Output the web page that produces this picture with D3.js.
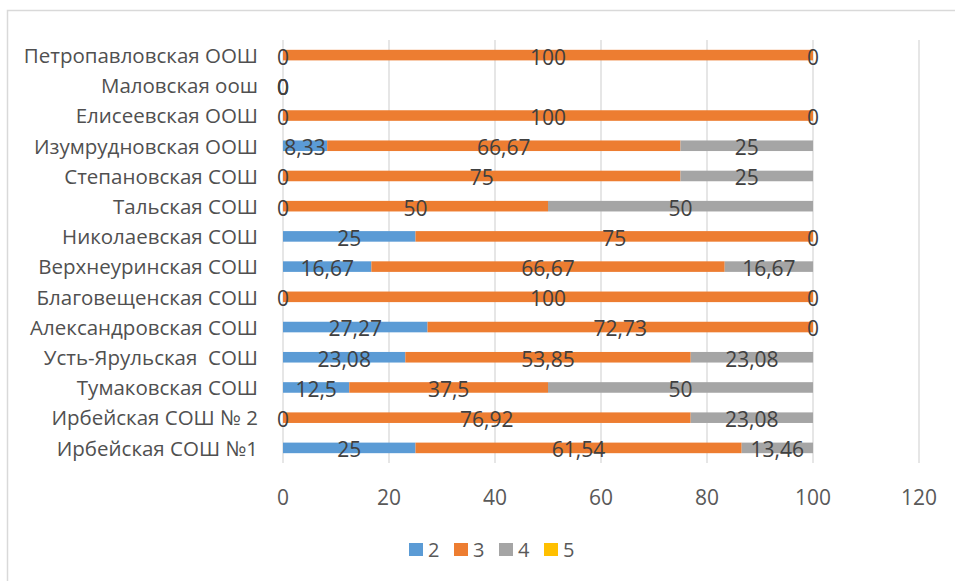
<!DOCTYPE html>
<html><head><meta charset="utf-8">
<script src="https://cdn.jsdelivr.net/npm/d3@7"></script>
<style>html,body{margin:0;padding:0;background:#fff;}svg{display:block;}</style>
</head><body>
<svg id="chart" width="955" height="581"></svg>
<script>
const categories = ["Петропавловская ООШ","Маловская оош","Елисеевская ООШ","Изумрудновская ООШ","Степановская СОШ","Тальская СОШ","Николаевская СОШ","Верхнеуринская СОШ","Благовещенская СОШ","Александровская СОШ","Усть-Ярульская  СОШ","Тумаковская СОШ","Ирбейская СОШ № 2","Ирбейская СОШ №1"];
const seriesNames = ["2","3","4","5"];
const s2 = [0,0,0,8.33,0,0,25,16.67,0,27.27,23.08,12.5,0,25];
const s3 = [100,0,100,66.67,75,50,75,66.67,100,72.73,53.85,37.5,76.92,61.54];
const s4 = [0,0,0,25,25,50,0,16.67,0,0,23.08,50,23.08,13.46];
const s5 = [null,null,null,null,null,null,null,null,null,null,null,null,null,null];
const colors = ["#5B9BD5","#ED7D31","#A5A5A5","#FFC000"];
const xTicks = [0,20,40,60,80,100,120];

const svg = d3.select("#chart");
const FONT = "'Open Sans', sans-serif";
const pLeft = 283, pRight = 919, pTop = 40, pBottom = 463;

svg.append("rect").attr("x",7.5).attr("y",10.5).attr("width",1000).attr("height",1000)
  .attr("fill","#fff").attr("stroke","#d9d9d9").attr("stroke-width",1.5);

const x = d3.scaleLinear().domain([0,120]).range([pLeft,pRight]);
const y = d3.scaleBand().domain(categories).range([pTop,pBottom]).paddingInner(0.65).paddingOuter(0.325);

// gridlines
svg.append("g").selectAll("line").data(xTicks).join("line")
  .attr("x1",d=>x(d)).attr("x2",d=>x(d)).attr("y1",pTop).attr("y2",pBottom)
  .attr("stroke","#d9d9d9").attr("stroke-width",1.3);

// tick labels
svg.append("g").selectAll("text").data(xTicks).join("text")
  .attr("x",d=>x(d)).attr("y",505).attr("text-anchor","middle")
  .attr("font-family",FONT).attr("font-size",21).attr("fill","#595959").text(d=>d);

const allSeries = [s2,s3,s4,s5];
const rows = categories.map((c,i)=>{
  let acc = 0; const segs = [];
  allSeries.forEach((s,k)=>{
    const v = s[i];
    const x0 = acc; acc += (v||0);
    segs.push({cat:c,k,v,x0,x1:acc});
  });
  return segs;
});
const segs = rows.flat();

svg.append("g").selectAll("rect").data(segs.filter(d=>d.v)).join("rect")
  .attr("x",d=>x(d.x0)).attr("width",d=>x(d.x1)-x(d.x0))
  .attr("y",d=>y(d.cat)).attr("height",y.bandwidth())
  .attr("fill",d=>colors[d.k]);

const fmt = v => String(v).replace(".",",");
svg.append("g").selectAll("text").data(segs.filter(d=>d.v!==null)).join("text")
  .attr("x",d=>x((d.x0+d.x1)/2)).attr("y",d=>y(d.cat)+y.bandwidth()/2)
  .attr("dy","0.45em").attr("text-anchor","middle")
  .attr("font-family",FONT).attr("font-size",21).attr("fill","#404040").text(d=>fmt(d.v));

// category labels
svg.append("g").selectAll("text").data(categories).join("text")
  .attr("x",258).attr("y",d=>y(d)+y.bandwidth()/2).attr("dy","0.38em")
  .attr("text-anchor","end").style("white-space","pre")
  .attr("font-family",FONT).attr("font-size",20.5).attr("fill","#505050").text(d=>d);

// legend
const lg = svg.append("g").selectAll("g").data(seriesNames).join("g")
  .attr("transform",(d,i)=>`translate(${409+i*45},543)`);
lg.append("rect").attr("width",14).attr("height",13).attr("fill",(d,i)=>colors[i]);
lg.append("text").attr("x",19).attr("y",6.5).attr("dy","0.37em")
  .attr("font-family",FONT).attr("font-size",20).attr("fill","#595959").text(d=>d);
</script>
</body></html>
